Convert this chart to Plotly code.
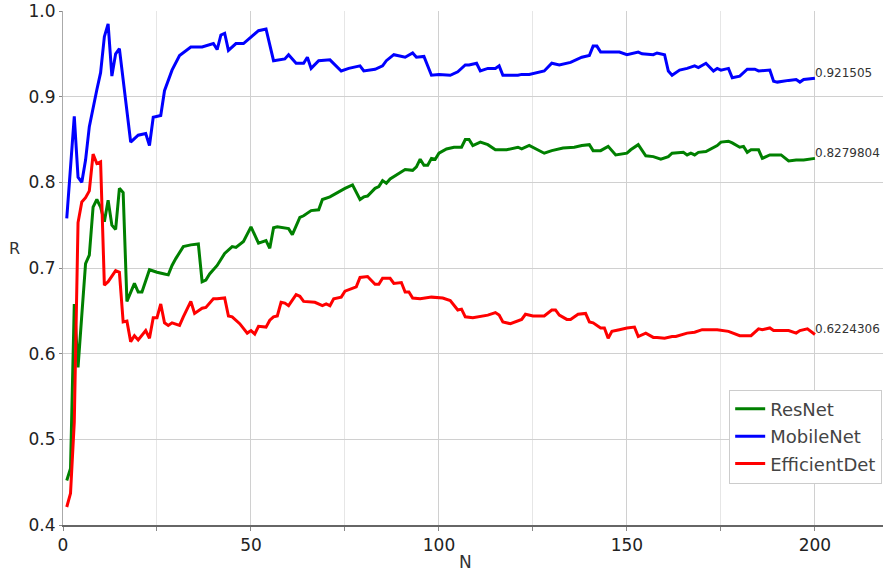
import plotly.graph_objects as go

# ---- data ----
resnet_n = [1, 2, 3, 4, 5, 6, 7, 8, 9, 10, 11, 12, 13, 14, 15, 16, 17, 19, 20, 21, 23, 25, 27, 28, 29, 30,
            32, 34, 36, 37, 38, 39, 41, 43, 45, 46, 48, 50, 52, 54, 55, 56, 57, 60, 61, 63, 64, 66, 68, 69,
            71, 74, 75, 77, 79, 80, 81, 83, 84, 85, 86, 87, 89, 91, 93, 94, 95, 96, 97, 98, 99, 100, 102,
            104, 106, 107, 108, 109, 111, 113, 115, 118, 121, 122, 124, 126, 128, 130, 133, 136, 138, 140,
            141, 143, 145, 147, 150, 151, 153, 155, 157, 159, 161, 162, 165, 166, 167, 168, 169, 171, 173,
            174, 175, 177, 178, 180, 181, 182, 183, 185, 186, 188, 191, 193, 195, 197, 200]
resnet_r = [0.452, 0.466, 0.658, 0.584, 0.645, 0.705, 0.715, 0.771, 0.780, 0.771, 0.754, 0.779, 0.750,
            0.745, 0.793, 0.788, 0.661, 0.682, 0.672, 0.672, 0.698, 0.695, 0.693, 0.692, 0.703, 0.711,
            0.725, 0.727, 0.728, 0.684, 0.686, 0.693, 0.703, 0.717, 0.725, 0.724, 0.731, 0.748, 0.729,
            0.732, 0.723, 0.747, 0.748, 0.746, 0.739, 0.759, 0.761, 0.767, 0.768, 0.780, 0.783, 0.791,
            0.793, 0.797, 0.780, 0.783, 0.784, 0.793, 0.795, 0.802, 0.799, 0.804, 0.809, 0.815, 0.814,
            0.818, 0.827, 0.820, 0.820, 0.828, 0.827, 0.834, 0.839, 0.841, 0.841, 0.850, 0.850, 0.843,
            0.847, 0.844, 0.838, 0.838, 0.841, 0.839, 0.843, 0.838, 0.834, 0.837, 0.840, 0.841, 0.843,
            0.844, 0.837, 0.837, 0.842, 0.832, 0.834, 0.838, 0.844, 0.831, 0.830, 0.827, 0.830, 0.834,
            0.835, 0.832, 0.834, 0.832, 0.835, 0.836, 0.841, 0.843, 0.847, 0.848, 0.846, 0.841, 0.842,
            0.835, 0.838, 0.838, 0.828, 0.832, 0.832, 0.825, 0.826, 0.826, 0.8279804]

mobilenet_n = [1, 3, 4, 5, 6, 7, 9, 10, 11, 12, 13, 14, 15, 17, 18, 20, 22, 23, 24, 26, 27, 29, 31, 34,
               37, 40, 41, 42, 43, 44, 46, 48, 50, 52, 54, 56, 59, 60, 62, 64, 65, 66, 68, 71, 74, 76, 79,
               80, 83, 85, 86, 88, 91, 93, 94, 96, 98, 100, 103, 105, 107, 108, 110, 111, 113, 115, 116,
               117, 121, 122, 124, 128, 130, 132, 135, 138, 140, 141, 142, 143, 148, 150, 153, 154, 157,
               158, 160, 161, 162, 164, 166, 168, 169, 171, 173, 174, 175, 177, 178, 180, 182, 184, 185,
               188, 189, 190, 193, 195, 196, 197, 200]
mobilenet_r = [0.758, 0.877, 0.806, 0.800, 0.826, 0.865, 0.908, 0.928, 0.970, 0.985, 0.924, 0.950, 0.956,
               0.884, 0.847, 0.855, 0.857, 0.843, 0.876, 0.878, 0.907, 0.931, 0.948, 0.958, 0.958, 0.962,
               0.955, 0.972, 0.974, 0.954, 0.962, 0.962, 0.970, 0.977, 0.979, 0.942, 0.944, 0.949, 0.939,
               0.939, 0.946, 0.933, 0.942, 0.943, 0.930, 0.933, 0.936, 0.930, 0.932, 0.936, 0.942, 0.949,
               0.946, 0.951, 0.946, 0.947, 0.925, 0.926, 0.925, 0.929, 0.937, 0.937, 0.939, 0.930, 0.933,
               0.933, 0.936, 0.925, 0.925, 0.926, 0.926, 0.930, 0.939, 0.937, 0.940, 0.946, 0.948, 0.959,
               0.959, 0.952, 0.952, 0.949, 0.952, 0.950, 0.949, 0.951, 0.949, 0.930, 0.925, 0.931, 0.933,
               0.936, 0.934, 0.939, 0.930, 0.933, 0.931, 0.933, 0.922, 0.924, 0.932, 0.932, 0.930, 0.931,
               0.918, 0.917, 0.919, 0.920, 0.917, 0.920, 0.921505]

effdet_n = [1, 2, 3, 4, 5, 6, 7, 8, 9, 10, 11, 12, 14, 15, 16, 17, 18, 19, 20, 21, 22, 23, 24, 25, 26, 27,
            28, 29, 31, 32, 34, 35, 37, 38, 40, 41, 43, 44, 45, 47, 48, 49, 50, 51, 52, 54, 55, 56, 57, 58,
            59, 60, 62, 63, 64, 67, 69, 70, 71, 72, 74, 75, 78, 79, 81, 83, 84, 85, 87, 88, 90, 91, 92, 93,
            95, 98, 101, 103, 105, 106, 107, 109, 113, 115, 116, 117, 119, 122, 123, 125, 128, 130, 131,
            132, 134, 135, 137, 139, 140, 141, 143, 144, 145, 146, 148, 150, 152, 153, 155, 157, 158, 160,
            162, 163, 166, 168, 170, 174, 177, 180, 183, 185, 186, 188, 189, 193, 195, 196, 198, 200]
effdet_r = [0.421, 0.437, 0.520, 0.753, 0.777, 0.782, 0.790, 0.833, 0.822, 0.824, 0.680, 0.684, 0.697,
            0.695, 0.637, 0.638, 0.614, 0.621, 0.616, 0.621, 0.627, 0.618, 0.642, 0.642, 0.658, 0.636,
            0.633, 0.636, 0.633, 0.643, 0.661, 0.647, 0.653, 0.654, 0.664, 0.664, 0.665, 0.644, 0.643,
            0.635, 0.629, 0.624, 0.627, 0.623, 0.632, 0.631, 0.639, 0.643, 0.644, 0.660, 0.659, 0.656,
            0.669, 0.667, 0.661, 0.660, 0.656, 0.658, 0.656, 0.664, 0.666, 0.673, 0.678, 0.689, 0.690,
            0.681, 0.681, 0.688, 0.688, 0.682, 0.683, 0.672, 0.672, 0.665, 0.664, 0.666, 0.665, 0.662,
            0.651, 0.652, 0.643, 0.642, 0.645, 0.648, 0.645, 0.637, 0.635, 0.640, 0.646, 0.644, 0.644,
            0.651, 0.651, 0.645, 0.640, 0.640, 0.646, 0.647, 0.637, 0.636, 0.630, 0.630, 0.618, 0.626,
            0.628, 0.630, 0.631, 0.620, 0.624, 0.619, 0.619, 0.618, 0.620, 0.620, 0.624, 0.625, 0.628,
            0.628, 0.626, 0.621, 0.621, 0.629, 0.628, 0.630, 0.627, 0.627, 0.624, 0.627, 0.629, 0.6224306]

series_names = ["ResNet", "MobileNet", "EfficientDet"]
series_colors = ["#008000", "#0000ff", "#ff0000"]
end_labels = ["0.8279804", "0.921505", "0.6224306"]

x_ticks = [0, 50, 100, 150, 200]
y_ticks = [0.4, 0.5, 0.6, 0.7, 0.8, 0.9, 1.0]
y_tick_text = ["0.4", "0.5", "0.6", "0.7", "0.8", "0.9", "1.0"]

FONT = "DejaVu Sans"

fig = go.Figure()
all_n = [resnet_n, mobilenet_n, effdet_n]
all_r = [resnet_r, mobilenet_r, effdet_r]
for name, color, xs, ys in zip(series_names, series_colors, all_n, all_r):
    fig.add_trace(go.Scatter(x=xs, y=ys, mode="lines", name=name, legendgroup=name,
                             line=dict(color=color, width=3)))

for lab, xs, ys in zip(end_labels, all_n, all_r):
    fig.add_annotation(x=xs[-1], y=ys[-1], text=lab, showarrow=False, xanchor="left",
                       yanchor="middle", yshift=5, xshift=-2,
                       font=dict(family=FONT, size=12, color="#333333"))

fig.add_annotation(xref="paper", yref="paper", x=-0.059, y=0.537, text="R", showarrow=False,
                   xanchor="center", yanchor="middle",
                   font=dict(family=FONT, size=16, color="#333333"))
fig.add_annotation(xref="paper", yref="paper", x=0.4904, y=-0.0716, text="N", showarrow=False,
                   xanchor="center", yanchor="middle",
                   font=dict(family=FONT, size=17, color="#333333"))

fig.update_layout(
    width=883, height=572,
    margin=dict(l=63, r=0, t=11, b=47),
    paper_bgcolor="white", plot_bgcolor="white",
    font=dict(family=FONT, size=17, color="#222222"),
    showlegend=True,
    legend=dict(x=0.999, xanchor="right", y=0.2634, yanchor="top",
                bgcolor="white", bordercolor="#cccccc", borderwidth=1,
                font=dict(family=FONT, size=18, color="#444444"),
                tracegroupgap=1, traceorder="grouped",
                entrywidth=135, entrywidthmode="pixels"),
    xaxis=dict(range=[0, 218.1], tickvals=x_ticks, ticks="outside", ticklen=4, tickcolor="#888888",
               showline=True, linecolor="#666666", linewidth=1.5, zeroline=False,
               showgrid=True, gridcolor="#d0d0d0", gridwidth=1,
               minor=dict(dtick=25, tick0=0, showgrid=True, gridcolor="#e6e6e6", ticks="outside",
                          ticklen=4, tickcolor="#888888"),
               tickfont=dict(family=FONT, size=17, color="#222222")),
    yaxis=dict(range=[0.4, 1.0], tickvals=y_ticks, ticktext=y_tick_text,
               ticks="outside", ticklen=3, tickcolor="#888888",
               showline=True, linecolor="#aaaaaa", linewidth=1, zeroline=False,
               showgrid=True, gridcolor="#d0d0d0", gridwidth=1,
               tickfont=dict(family=FONT, size=17, color="#222222")),
)

fig.write_html("out.html")
